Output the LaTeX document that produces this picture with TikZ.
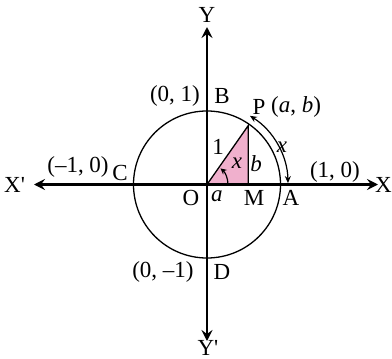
\documentclass[tikz,border=0pt]{standalone}
\usepackage{fontspec}
\setmainfont{Liberation Serif}
\usetikzlibrary{arrows.meta,calc}
\definecolor{tripink}{RGB}{240,176,205}
\newcommand{\apos}{\textquotesingle}
\begin{document}
\begin{tikzpicture}[x=1pt,y=-1pt,
  lbl/.style={inner sep=0pt,font=\fontsize{23}{26}\selectfont},
  axis/.style={line width=2.2pt,-{Stealth[length=11pt,width=11pt,inset=4pt]}},
  thin/.style={line width=1.3pt}]
\useasboundingbox (0,0) rectangle (392,359);
\coordinate (O) at (207,184.5);
\path (O) ++(-55:72) coordinate (P);
\path (P |- O) coordinate (M);
\path (O) ++(73.5,0) coordinate (A);
% triangle
\fill[tripink] (O) -- (M) -- (P) -- cycle;
\draw[thin] (O) -- (P) -- (M);
% circle
\draw[thin] (O) circle[radius=73.5];
% axes
\coordinate (xl) at (34,184.5);
\coordinate (xr) at (378,184.5);
\coordinate (yt) at (207,27);
\coordinate (yb) at (207,341);
\draw[axis] (O) -- (xr);
\draw[axis] (O) -- (xl);
\draw[axis] (O) -- (yt);
\draw[axis] (O) -- (yb);
% angle arc
\draw[line width=1.2pt,-{Stealth[length=6pt,width=6pt]}] ($(O)+(21,0)$) arc[start angle=0,end angle=-50,radius=21];
% outer arc
\draw[line width=1.2pt,{Stealth[length=7pt,width=6pt]}-{Stealth[length=7pt,width=6pt]}] ($(O)+(-58:81)$) arc[start angle=-58,end angle=-1,radius=81];
% labels
\node[lbl] (Y) at (207,15) {Y};
\node[lbl,anchor=base] (Yp) at (208,355) {Y\apos};
\node[lbl,anchor=east] (X) at (392,185) {X};
\node[lbl,anchor=west] (Xp) at (4,185) {X\apos};
\node[lbl] (B) at (222,96) {B};
\node[lbl] (B1) at (175,96) {(0, 1)};
\node[lbl] (Pl) at (259,107) {P};
\node[lbl] (Pab) at (296,107) {(\textit{a}, \textit{b})};
\node[lbl] (A1) at (335,172) {(1, 0)};
\node[lbl] (Al) at (291,198) {A};
\node[lbl] (Ml) at (254,198) {M};
\node[lbl] (Ol) at (191,198) {O};
\node[lbl] (al) at (217,196) {\textit{a}};
\node[lbl] (bl) at (256,164) {\textit{b}};
\node[lbl] (one) at (218,147) {1};
\node[lbl] (xi) at (237,163) {\textit{x}};
\node[lbl] (xo) at (282,147) {\textit{x}};
\node[lbl] (C) at (120,173) {C};
\node[lbl] (C1) at (78,167) {(--1, 0)};
\node[lbl] (D) at (222,272) {D};
\node[lbl] (D1) at (163,272) {(0, --1)};
\end{tikzpicture}
\end{document}
